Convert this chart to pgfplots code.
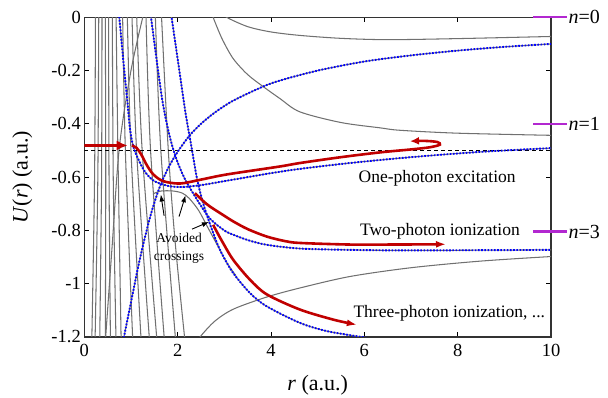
\documentclass[border=0pt]{standalone}
\usepackage{fontspec}
\setmainfont{Liberation Serif}
\usepackage{pgfplots}
\pgfplotsset{compat=1.18}
\usepackage{pgfplotstable}
\usetikzlibrary{arrows.meta}
\definecolor{myred}{RGB}{192,0,0}
\definecolor{mymag}{RGB}{178,40,208}
\definecolor{mygray}{RGB}{112,112,112}

\pgfplotstableread{
x y
0.72 0.05
0.75 0
0.84 -0.17
0.92 -0.31
0.98 -0.42
1.05 -0.485
1.15 -0.53
1.3 -0.58
1.5 -0.615
1.8 -0.633
2.1 -0.637
2.5 -0.630
3.0 -0.615
3.5 -0.600
4.0 -0.585
4.62 -0.569
5.69 -0.547
7.0 -0.525
8.5 -0.505
10 -0.491
}\tabBa
\pgfplotstableread{
x y
0.80 -1.25
0.85 -1.2
1.0 -1.07
1.15 -0.94
1.3 -0.825
1.45 -0.725
1.62 -0.635
1.8 -0.565
2.0 -0.505
2.26 -0.443
2.5 -0.40
2.8 -0.357
3.2 -0.312
3.83 -0.26
4.2 -0.237
5 -0.2
6 -0.166
7 -0.143
8 -0.125
9 -0.111
10 -0.1
}\tabBb
\pgfplotstableread{
x y
1.41 0.03
1.43 0
1.55 -0.16
1.68 -0.32
1.82 -0.44
1.97 -0.53
2.15 -0.605
2.4 -0.68
2.69 -0.755
3.0 -0.80
3.19 -0.816
3.5 -0.836
3.91 -0.854
4.62 -0.868
5.69 -0.873
7 -0.875
10 -0.873
}\tabBc
\pgfplotstableread{
x y
1.85 0.02
1.87 0
2.02 -0.18
2.17 -0.36
2.29 -0.48
2.42 -0.61
2.55 -0.70
2.69 -0.775
2.85 -0.85
2.98 -0.898
3.19 -0.96
3.55 -1.035
3.91 -1.085
4.62 -1.147
5.2 -1.178
5.94 -1.2
6.3 -1.21
}\tabBd

\begin{document}
\begin{tikzpicture}
\begin{axis}[
  at={(0,0)}, anchor=south west,
  scale only axis, width=466.7pt, height=319.7pt,
  xmin=0, xmax=10, ymin=-1.2, ymax=0,
  xtick={0,2,4,6,8,10}, xticklabels={0,2,4,6,8,10},
  ytick={-1.2,-1,-0.8,-0.6,-0.4,-0.2,0},
  yticklabels={-1.2,-1,-0.8,-0.6,-0.4,-0.2,0},
  tick align=inside, major tick length=5pt,
  tick style={black, line width=0.8pt},
  axis line style={line width=1.2pt, black!80},
  ticklabel style={font=\rmfamily\fontsize{18.5}{20}\selectfont},
  xticklabel style={yshift=-3.5pt},
  xlabel={\textit{r} (a.u.)},
  ylabel={\textit{U}(\textit{r}) (a.u.)},
  label style={font=\rmfamily\fontsize{22}{24}\selectfont},
  xlabel style={at={(axis description cs:0.5,0)}, anchor=center, yshift=-48pt},
  ylabel style={at={(axis description cs:-0.1328,0.5)}, anchor=center},
  gl/.style={mygray, line width=1.05pt, smooth, tension=0.5},
  bl/.style={blue, line width=1.9pt, dash pattern=on 1.6pt off 1.6pt, smooth, tension=0.5},
  rl/.style={myred, line width=2.6pt, smooth, tension=0.5},
]
% steep gray curves on the left
\addplot[gl] coordinates {(0.24,0.02) (0.22,-0.6) (0.16,-1.22)};
\addplot[gl] coordinates {(0.31,0.02) (0.29,-0.6) (0.23,-1.22)};
\addplot[gl] coordinates {(0.38,0.02) (0.37,-0.6) (0.33,-1.22)};
\addplot[gl] coordinates {(0.45,0.02) (0.46,-0.6) (0.45,-1.22)};
\addplot[gl] coordinates {(0.52,0.02) (0.53,-0.6) (0.56,-1.22)};
\addplot[gl] coordinates {(0.60,0.02) (0.62,-0.6) (0.68,-1.22)};
\addplot[gl] coordinates {(0.68,0.02) (0.72,-0.5) (0.79,-1.22)};
\addplot[gl] coordinates {(0.82,0.02) (0.88,-0.5) (1.04,-1.22)};
\addplot[gl] coordinates {(0.92,0.02) (1.00,-0.5) (1.22,-1.22)};
\addplot[gl] coordinates {(1.02,0.02) (1.12,-0.5) (1.40,-1.22)};
\addplot[gl] coordinates {(1.12,0.02) (1.24,-0.5) (1.56,-1.22)};
\addplot[gl] coordinates {(1.32,0.02) (1.42,-0.5) (1.72,-1.22)};
\addplot[gl] coordinates {(1.52,0.02) (1.64,-0.5) (1.96,-1.22)};
\addplot[gl] coordinates {(1.65,0.02) (1.80,-0.5) (1.95,-0.85) (2.16,-1.22)};
\addplot[gl] coordinates {(0.45,-1.22) (0.6,-0.85) (0.75,-0.49) (1.0,-0.2) (1.28,0.02)};
% smooth gray curves
\addplot[gl] coordinates {(2.95,0.02) (3.05,0) (3.5,-0.035) (4.0,-0.055) (4.62,-0.068) (5.5,-0.079) (6.5,-0.084) (8,-0.08) (10,-0.072)};
\addplot[gl] coordinates {(2.72,0.02) (2.76,0) (2.95,-0.08) (3.19,-0.155) (3.5,-0.215) (3.84,-0.261) (4.2,-0.306) (4.62,-0.355) (5.5,-0.395) (6.34,-0.415) (6.76,-0.424) (8,-0.435) (10,-0.443)};
\addplot[gl] coordinates {(2.40,-1.23) (2.48,-1.2) (2.8,-1.14) (3.2,-1.095) (3.91,-1.05) (4.62,-1.016) (5.69,-0.973) (7,-0.94) (8.5,-0.915) (10,-0.898)};
\addplot[gl] coordinates {(1.48,-0.662) (1.65,-0.652) (1.9,-0.652) (2.1,-0.66) (2.25,-0.68) (2.45,-0.725) (2.65,-0.79) (2.85,-0.855) (3.05,-0.92) (3.25,-0.97)};
% gray under blue
\addplot[gl] table {\tabBa};
\addplot[gl] table {\tabBb};
\addplot[gl] table {\tabBc};
\addplot[gl] table {\tabBd};
% dashed line
\addplot[black, line width=0.8pt, dash pattern=on 4pt off 3pt] coordinates {(0,-0.5) (10,-0.5)};
% blue dotted
\addplot[bl] table {\tabBa};
\addplot[bl] table {\tabBb};
\addplot[bl] table {\tabBc};
\addplot[bl] table {\tabBd};
% red paths
\addplot[myred, line width=2.8pt, -{Latex[length=11pt,width=10pt]}] coordinates {(0,-0.481) (0.93,-0.481)};
\addplot[rl, -{Latex[length=9pt,width=8pt]}] coordinates {(1.02,-0.481) (1.12,-0.49) (1.22,-0.515) (1.34,-0.555) (1.48,-0.59) (1.69,-0.615) (2.05,-0.624) (2.48,-0.61) (3.05,-0.59) (4.19,-0.56) (4.62,-0.547) (5.5,-0.525) (6.34,-0.507) (7.0,-0.496) (7.4,-0.488) (7.62,-0.478) (7.56,-0.468) (7.3,-0.464) (6.98,-0.465)};
\addplot[rl, -{Latex[length=10pt,width=7pt]}] coordinates {(2.37,-0.66) (2.55,-0.69) (2.69,-0.71) (3.0,-0.745) (3.19,-0.766) (3.5,-0.795) (3.91,-0.823) (4.3,-0.84) (4.62,-0.847) (5.69,-0.853) (6.5,-0.853) (7.75,-0.852)};
\addplot[rl, -{Latex[length=10pt,width=7pt]}] coordinates {(2.76,-0.779) (2.95,-0.84) (3.19,-0.91) (3.55,-0.985) (3.91,-1.04) (4.62,-1.097) (5.34,-1.135) (5.84,-1.154)};
% avoided crossing arrows
\draw[black, line width=0.9pt, -{Latex[length=7pt,width=5pt]}] (axis cs:1.71,-0.745) -- (axis cs:1.64,-0.665);
\draw[black, line width=0.9pt, -{Latex[length=7pt,width=5pt]}] (axis cs:2.03,-0.748) -- (axis cs:2.17,-0.668);
\draw[black, line width=0.9pt, -{Latex[length=7pt,width=5pt]}] (axis cs:2.31,-0.795) -- (axis cs:2.67,-0.768);
% texts
\node[align=center, font=\rmfamily\fontsize{13.5}{18}\selectfont] at (axis cs:2.03,-0.866) {Avoided\\crossings};
\node[font=\rmfamily\fontsize{17.5}{20}\selectfont] at (axis cs:7.56,-0.606) {One-photon excitation};
\node[font=\rmfamily\fontsize{17.5}{20}\selectfont] at (axis cs:7.62,-0.804) {Two-photon ionization};
\node[font=\rmfamily\fontsize{17.5}{20}\selectfont] at (axis cs:7.82,-1.11) {Three-photon ionization, ...};
\coordinate (n0) at (axis cs:10,0);
\coordinate (n1) at (axis cs:10,-0.4);
\coordinate (n3) at (axis cs:10,-0.804);
\end{axis}
\foreach \c/\l in {n0/0,n1/1,n3/3}{
  \draw[mymag, line width=2.4pt] ([xshift=-18pt]\c) -- ([xshift=16pt]\c);
  \node[anchor=west, inner sep=1.5pt, font=\rmfamily\fontsize{20}{22}\selectfont] at ([xshift=16pt]\c) {\textit{n}=\l};
}
\pgfresetboundingbox
\path[use as bounding box] (-84.3pt,-61pt) rectangle (523.7pt,337pt);
\end{tikzpicture}
\end{document}
